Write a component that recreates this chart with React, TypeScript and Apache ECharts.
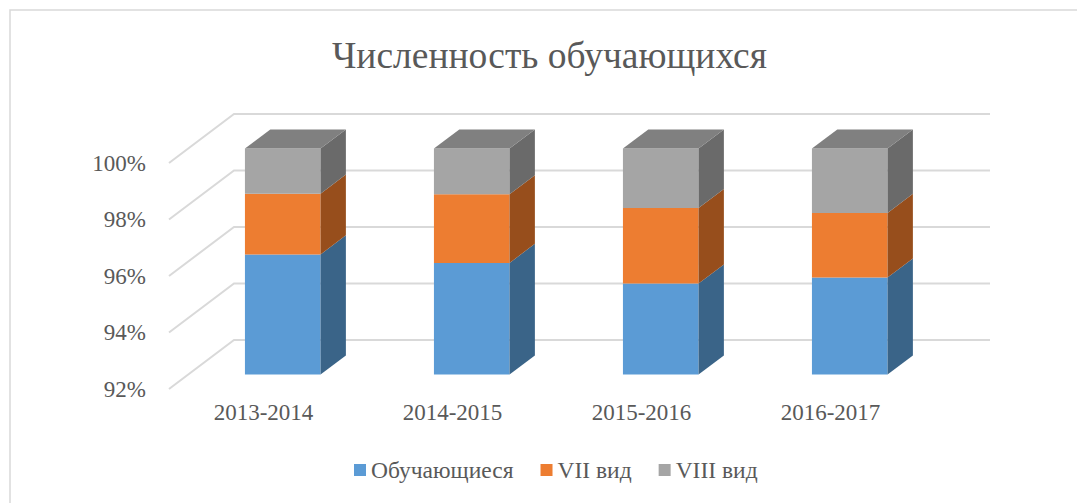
import React, { useEffect, useRef } from "react";
import * as echarts from "echarts";

const categories = ["2013-2014", "2014-2015", "2015-2016", "2016-2017"];
const students = [96.25, 95.95, 95.22, 95.43];
const vii = [2.15, 2.43, 2.67, 2.29];
const viii = [1.6, 1.62, 2.11, 2.28];
const yTicks = [92, 94, 96, 98, 100];
const seriesNames = ["Обучающиеся", "VII вид", "VIII вид"];

const Y_MIN = 92;
const Y_MAX = 100;
const DEPTH_X = 65;
const DEPTH_Y = -49;
const FRONT_F = 0.296;
const BAR_DEPTH_F = 0.39;
const FONT = "Liberation Serif";
const TEXT = "#595959";

const colors = [
  { front: "#5B9BD5", side: "#3A6488", top: "#4A7DAE" },
  { front: "#ED7D31", side: "#974E1C", top: "#B45F25" },
  { front: "#A5A5A5", side: "#6A6A6A", top: "#808080" },
];

function makeRender(c: { front: string; side: string; top: string }, isTop: boolean) {
  return (params: any, api: any) => {
    const cat = api.value(0);
    const lo = Math.max(api.value(1), Y_MIN);
    const hi = api.value(2);
    const pLo = api.coord([cat, lo]);
    const pHi = api.coord([cat, hi]);
    const band = api.size([1, 0])[0];
    const w = band * 0.4;
    const fx = DEPTH_X * FRONT_F;
    const fy = DEPTH_Y * FRONT_F;
    const dx = DEPTH_X * BAR_DEPTH_F;
    const dy = DEPTH_Y * BAR_DEPTH_F;
    const xl = pLo[0] - w / 2 + fx;
    const xr = xl + w;
    const yb = pLo[1] + fy;
    const yt = pHi[1] + fy;
    const children: any[] = [
      {
        type: "rect",
        shape: { x: xl, y: yt, width: w, height: yb - yt },
        style: { fill: c.front },
      },
      {
        type: "polygon",
        shape: { points: [[xr, yt], [xr + dx, yt + dy], [xr + dx, yb + dy], [xr, yb]] },
        style: { fill: c.side },
      },
    ];
    if (isTop) {
      children.push({
        type: "polygon",
        shape: { points: [[xl, yt], [xr, yt], [xr + dx, yt + dy], [xl + dx, yt + dy]] },
        style: { fill: c.top },
      });
    }
    return { type: "group", children };
  };
}

export default function App() {
  const ref = useRef<HTMLDivElement>(null);
  useEffect(() => {
    if (!ref.current) return;
    const chart = echarts.init(ref.current, undefined, { renderer: "svg" });

    const base1 = students.map(() => Y_MIN);
    const top1 = students.slice();
    const top2 = students.map((v, i) => v + vii[i]);
    const top3 = top2.map((v, i) => v + viii[i]);

    const segs = [
      categories.map((_, i) => [i, base1[i], top1[i]]),
      categories.map((_, i) => [i, top1[i], top2[i]]),
      categories.map((_, i) => [i, top2[i], top3[i]]),
    ];

    const option: any = {
      animation: false,
      backgroundColor: "#ffffff",
      textStyle: { fontFamily: FONT },
      title: {
        text: "Численность обучающихся",
        left: 327,
        top: 31,
        textStyle: { fontFamily: FONT, fontSize: 37.5, fontWeight: "normal", color: TEXT },
      },
      graphic: [
        {
          type: "rect",
          shape: { x: 10, y: 10, width: 1200, height: 700 },
          style: { fill: "none", stroke: "#D9D9D9", lineWidth: 1.5 },
          silent: true,
          z: -10,
        },
      ],
      legend: {
        data: seriesNames,
        bottom: 16,
        left: 349,
        icon: "rect",
        itemWidth: 12,
        itemHeight: 12,
        itemGap: 27,
        textStyle: { fontFamily: FONT, fontSize: 23.5, color: TEXT },
      },
      grid: { left: 169, right: 152, top: 163, bottom: 114 },
      xAxis: {
        type: "category",
        data: categories,
        axisLine: { show: false },
        axisTick: { show: false },
        axisLabel: { fontFamily: FONT, fontSize: 23, color: TEXT, margin: 12 },
      },
      yAxis: {
        type: "value",
        min: Y_MIN,
        max: Y_MAX,
        interval: 2,
        splitLine: { show: false },
        axisLine: { show: false },
        axisTick: { show: false },
        axisLabel: {
          formatter: (v: number) => v + "%",
          fontFamily: FONT,
          fontSize: 23,
          color: TEXT,
          margin: 23,
        },
      },
      series: [
        {
          type: "custom",
          name: "grid3d",
          silent: true,
          z: 1,
          data: yTicks.map((v) => [0, v]),
          encode: { x: 0, y: 1 },
          renderItem: (params: any, api: any) => {
            const p = api.coord([0, api.value(1)]);
            const cs = params.coordSys;
            return {
              type: "polyline",
              shape: {
                points: [
                  [cs.x, p[1]],
                  [cs.x + DEPTH_X, p[1] + DEPTH_Y],
                  [cs.x + cs.width + DEPTH_X, p[1] + DEPTH_Y],
                ],
              },
              style: { stroke: "#D9D9D9", lineWidth: 2, fill: "none" },
            };
          },
        },
        ...seriesNames.map((name, k) => ({
          type: "custom",
          name,
          z: 2,
          itemStyle: { color: colors[k].front },
          data: segs[k],
          encode: { x: 0, y: [1, 2] },
          renderItem: makeRender(colors[k], k === 2),
        })),
      ],
    };
    chart.setOption(option);
    return () => chart.dispose();
  }, []);

  return (
    <div
      ref={ref}
      style={{ position: "fixed", left: 0, top: 0, width: 1077, height: 503 }}
    />
  );
}
